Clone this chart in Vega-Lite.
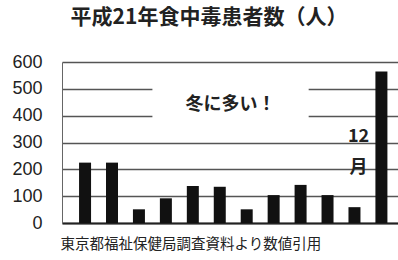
{
  "$schema": "https://vega.github.io/schema/vega-lite/v6.json",
  "width": 336,
  "height": 161,
  "autosize": "none",
  "padding": {"left": 62, "top": 62, "right": 0, "bottom": 37},
  "background": "white",
  "config": {"view": {"stroke": null}},
  "title": {
    "text": "平成21年食中毒患者数（人）",
    "font": "Noto Sans CJK JP",
    "fontSize": 21,
    "fontWeight": "bold",
    "color": "#222",
    "anchor": "middle",
    "offset": 25,
    "dx": -21
  },
  "datasets": {
    "bars": [
      {"month": 1, "patients": 225},
      {"month": 2, "patients": 225},
      {"month": 3, "patients": 51},
      {"month": 4, "patients": 92},
      {"month": 5, "patients": 138},
      {"month": 6, "patients": 135},
      {"month": 7, "patients": 51},
      {"month": 8, "patients": 104},
      {"month": 9, "patients": 142},
      {"month": 10, "patients": 104},
      {"month": 11, "patients": 59},
      {"month": 12, "patients": 565}
    ],
    "box": [
      {"month": 3.5, "month2": 9.3, "patients": 360, "patients2": 540}
    ],
    "notes": [
      {"month": 6.4, "patients": 440, "label": "冬に多い！"},
      {"month": 11.15, "patients": 321, "label": "12"},
      {"month": 11.15, "patients": 205, "label": "月"}
    ]
  },
  "encoding": {
    "x": {
      "field": "month",
      "type": "quantitative",
      "scale": {"domain": [0.33, 12.43], "nice": false, "zero": false},
      "axis": {
        "labels": false,
        "ticks": false,
        "grid": false,
        "domain": true,
        "domainColor": "#222",
        "domainWidth": 2,
        "title": "東京都福祉保健局調査資料より数値引用",
        "titleFont": "Noto Sans CJK JP",
        "titleFontSize": 14.5,
        "titleFontWeight": "normal",
        "titleColor": "#222",
        "titleAlign": "left",
        "titleBaseline": "top",
        "titleX": -2,
        "titleY": 14
      }
    },
    "y": {
      "field": "patients",
      "type": "quantitative",
      "scale": {"domain": [0, 600], "nice": false},
      "axis": {
        "values": [0, 100, 200, 300, 400, 500, 600],
        "tickCount": 7,
        "labelOverlap": false,
        "grid": true,
        "gridColor": "#555",
        "gridWidth": 1.5,
        "domain": true,
        "domainColor": "#666",
        "ticks": false,
        "labelPadding": 20,
        "labelFont": "Liberation Sans",
        "labelFontSize": 18,
        "labelColor": "#222",
        "title": null
      }
    }
  },
  "layer": [
    {
      "data": {"name": "bars"},
      "mark": {"type": "bar", "size": 12, "color": "#111"}
    },
    {
      "data": {"name": "box"},
      "mark": {"type": "rect", "fill": "white"},
      "encoding": {
        "x2": {"field": "month2"},
        "y2": {"field": "patients2"}
      }
    },
    {
      "data": {"name": "notes"},
      "mark": {
        "type": "text",
        "font": "Noto Sans CJK JP",
        "fontSize": 18,
        "fontWeight": "bold",
        "color": "#222",
        "align": "center",
        "baseline": "middle"
      },
      "encoding": {
        "text": {"field": "label"}
      }
    }
  ]
}
